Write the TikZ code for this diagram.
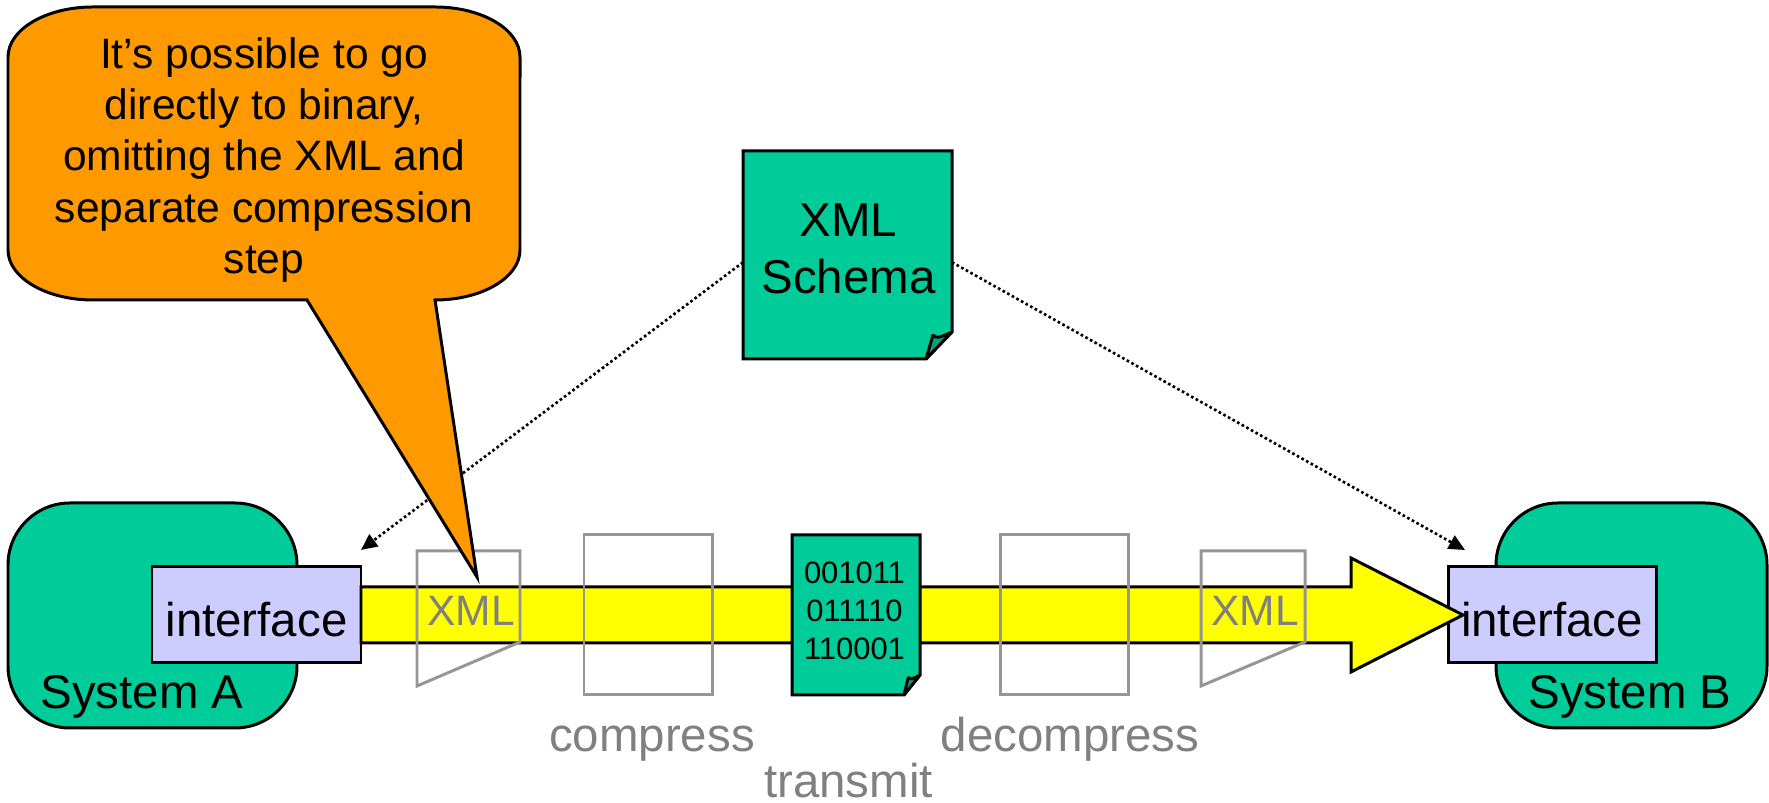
\documentclass[tikz,border=0pt]{standalone}
\usepackage{fontspec}
\setmainfont{Liberation Sans}
\usetikzlibrary{arrows.meta, calc}
\definecolor{sysgreen}{HTML}{00CC99}
\definecolor{flapgreen}{HTML}{00A37A}
\definecolor{ifaceblue}{HTML}{CCCCFF}
\definecolor{noteorange}{HTML}{FF9900}
\definecolor{bandyellow}{RGB}{255,255,0}
\definecolor{stepgray}{HTML}{808080}
\definecolor{boxgray}{HTML}{969696}
\tikzset{
    > = {Stealth[inset=0pt, length=4.6pt, width=4.2pt]},
    every path/.style = {line width=0.85pt, line join=miter},
    bigtext/.style = {font=\fontsize{13.5}{16}\selectfont, inner sep=0pt, align=center},
    midtext/.style = {font=\fontsize{12.1}{14.65}\selectfont, inner sep=0pt, align=center},
    bits/.style = {font=\fontsize{8.8}{10.8}\selectfont, inner sep=0pt, align=center},
    graytext/.style = {bigtext, text=stepgray, anchor=base},
    graymid/.style = {midtext, text=stepgray, anchor=base},
    system/.style = {draw, fill=sysgreen, rounded corners=0.62cm, minimum width=#1, minimum height=2.25cm, inner sep=0pt, outer sep=0pt},
    interface/.style = {bigtext, draw, fill=ifaceblue, minimum width=#1, minimum height=0.96cm, outer sep=0pt, text height=0.43cm, text depth=0pt},
    docnode/.style = {minimum width=#1, inner sep=0pt, outer sep=0pt},
    stepbox/.style = {draw=boxgray, minimum width=1.28cm, minimum height=1.60cm, inner sep=0pt, outer sep=0pt},
    xmlpage/.style = {draw=boxgray},
    link/.style = {->, line width=0.75pt, dash pattern=on 0.75pt off 0.75pt}
}
\newcommand{\docshape}[3]{
    \draw[fill=sysgreen] (#1.north west) -- (#1.north east) -- ($(#1.south east)+(0,#3)$)
        -- ($(#1.south east)+(-#2,0)$) -- (#1.south west) -- cycle;
    \draw[fill=flapgreen, line join=bevel] ($(#1.south east)+(-#2,0)$) -- ($(#1.south east)+(-.73*#2,.89*#3)$)
        .. controls ($(#1.south east)+(-.62*#2,.75*#3)$) and ($(#1.south east)+(-.5*#2,.78*#3)$)
        .. ($(#1.south east)+(0,#3)$) -- cycle;
}

\begin{document}
\begin{tikzpicture}
    \useasboundingbox (0, 0) rectangle (17.69, 8.03);

    \node[system=2.89cm] (sysA) at (1.525, 1.875) {};
    \node[system=2.71cm] (sysB) at (16.315, 1.875) {};
    \node[interface=2.09cm] (ifaceA) at (2.565, 1.88) {interface};
    \node[interface=2.08cm] (ifaceB) at (15.52, 1.88) {interface};
    \node[bigtext, anchor=base] (labelA) at (1.42, 0.94) {System A};
    \node[bigtext, anchor=base] (labelB) at (16.30, 0.94) {System B};

    \draw[fill=bandyellow] (3.61, 2.16) -- (13.51, 2.16) -- (13.51, 2.45) -- (14.63, 1.88)
        -- (13.51, 1.31) -- (13.51, 1.60) -- (3.61, 1.60) -- cycle;

    \draw[xmlpage] (4.17, 2.52) -- (5.20, 2.52) -- (5.20, 1.61) -- (4.17, 1.17) -- cycle;
    \draw[xmlpage] (12.01, 2.52) -- (13.05, 2.52) -- (13.05, 1.61) -- (12.01, 1.17) -- cycle;
    \node[graymid] (xmlA) at (4.71, 1.77) {XML};
    \node[graymid] (xmlB) at (12.55, 1.77) {XML};

    \node[stepbox] (compress) at (6.48, 1.88) {};
    \node[stepbox] (decompress) at (10.64, 1.88) {};
    \node[docnode=1.28cm, minimum height=1.60cm] (bitsdoc) at (8.56, 1.88) {};
    \docshape{bitsdoc}{.16}{.20}
    \node[bits] (bitstext) at (8.545, 1.92) {001011\\011110\\110001};

    \node[graytext] (compresslabel) at (6.52, 0.51) {compress};
    \node[graytext] (decompresslabel) at (10.70, 0.51) {decompress};
    \node[graytext] (transmitlabel) at (8.485, 0.05) {transmit};

    \node[docnode=2.09cm, minimum height=2.08cm] (schema) at (8.475, 5.48) {};
    \docshape{schema}{.26}{.27}
    \node[bigtext] (schematext) at (8.485, 5.54) {XML\\Schema};

    \coordinate (tipA) at (3.61, 2.53);
    \coordinate (tipB) at (14.65, 2.53);
    \draw[link] (schema.184) -- (tipA);
    \draw[link] (schema.356) -- (tipB);

    \draw[fill=noteorange] (0.93, 7.96) -- (4.35, 7.96)
        arc[start angle=90, end angle=0, x radius=0.85, y radius=0.5] -- (5.20, 5.53)
        arc[start angle=0, end angle=-90, x radius=0.85, y radius=0.5]
        -- (4.77, 2.26) -- (3.07, 5.03) -- (0.93, 5.03)
        arc[start angle=270, end angle=180, x radius=0.85, y radius=0.5] -- (0.08, 7.46)
        arc[start angle=180, end angle=90, x radius=0.85, y radius=0.5] -- cycle;
    \node[midtext] (note) at (2.64, 6.43) {It’s possible to go\\directly to binary,\\omitting the XML and\\separate compression\\step};
\end{tikzpicture}
\end{document}
